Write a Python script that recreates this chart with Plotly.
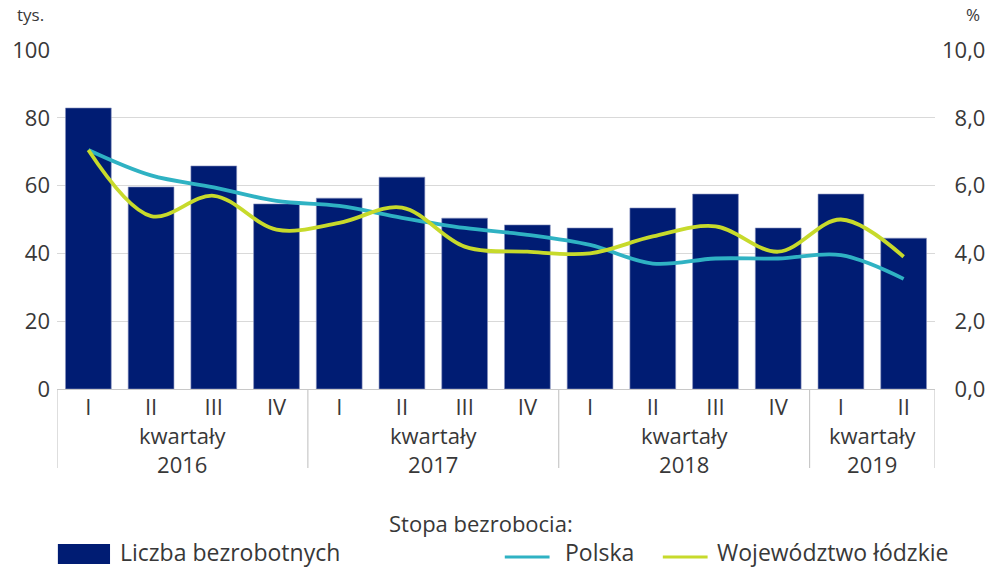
import plotly.graph_objects as go

quarters = ["I", "II", "III", "IV", "I", "II", "III", "IV", "I", "II", "III", "IV", "I", "II"]
years = ["2016"] * 4 + ["2017"] * 4 + ["2018"] * 4 + ["2019"] * 2
unemployed = [82.9, 59.6, 65.8, 54.6, 56.3, 62.5, 50.4, 48.4, 47.5, 53.4, 57.5, 47.5, 57.5, 44.5]
rate_poland = [7.05, 6.3, 5.95, 5.55, 5.4, 5.05, 4.75, 4.55, 4.25, 3.7, 3.85, 3.85, 3.95, 3.25]
rate_lodzkie = [7.05, 5.1, 5.7, 4.7, 4.9, 5.35, 4.2, 4.05, 4.0, 4.5, 4.8, 4.05, 5.0, 3.9]
rate_ticks = [0, 2, 4, 6, 8, 10]
group_label = "kwartały"

NAVY = "#001c73"
TEAL = "#2fb2c3"
LIME = "#c7da2b"
TXT = "#383838"
FONT = "Open Sans"
FS = 22

x = list(range(len(quarters)))

fig = go.Figure()
fig.add_trace(go.Bar(x=x, y=unemployed, marker=dict(color=NAVY, line=dict(color="#8a93c0", width=0.6)),
                     name="Liczba bezrobotnych", showlegend=False))
fig.add_trace(go.Scatter(x=x, y=rate_poland, yaxis="y2", mode="lines",
                         line=dict(color=TEAL, width=3.8, shape="spline", smoothing=1.0),
                         name="Polska", showlegend=False))
fig.add_trace(go.Scatter(x=x, y=rate_lodzkie, yaxis="y2", mode="lines",
                         line=dict(color=LIME, width=3.8, shape="spline", smoothing=1.0),
                         name="Województwo łódzkie", showlegend=False))

# group boundaries and labels
groups = []
start = 0
for i in range(1, len(years) + 1):
    if i == len(years) or years[i] != years[start]:
        groups.append((start, i - 1, years[start]))
        start = i

tf = dict(size=FS, color=TXT, family=FONT)
lf = dict(size=23, color=TXT, family=FONT)
shapes = []
annotations = []
bounds = sorted(set([g[0] - 0.5 for g in groups] + [g[1] + 0.5 for g in groups]))
for b in bounds:
    shapes.append(dict(type="line", xref="x", yref="paper", x0=b, x1=b, y0=0, y1=-0.233,
                       line=dict(color="#c8c8c8", width=1.2)))
for s, e, yr in groups:
    annotations.append(dict(xref="x", yref="paper", x=(s + e) / 2, y=-0.178, yanchor="middle",
                            text=f"{group_label}<br>{yr}", showarrow=False, font=tf, borderpad=0))

# axis unit labels
annotations.append(dict(xref="paper", yref="paper", x=-0.013, y=1.065, xanchor="right", yanchor="bottom",
                        text="tys.", showarrow=False, font=dict(size=17, color=TXT, family=FONT)))
annotations.append(dict(xref="paper", yref="paper", x=1.0535, y=1.065, xanchor="right", yanchor="bottom",
                        text="%", showarrow=False, font=dict(size=17, color=TXT, family=FONT)))

# custom legend
annotations.append(dict(xref="paper", yref="paper", x=0.483, y=-0.395, xanchor="center", yanchor="middle",
                        text="Stopa bezrobocia:", showarrow=False, font=tf))
shapes.append(dict(type="rect", xref="paper", yref="paper", x0=0.001, x1=0.0604, y0=-0.516, y1=-0.457,
                   fillcolor=NAVY, line=dict(width=0)))
annotations.append(dict(xref="paper", yref="paper", x=0.0695, y=-0.482, xanchor="left", yanchor="middle",
                        text="Liczba bezrobotnych", showarrow=False, font=lf))
shapes.append(dict(type="line", xref="paper", yref="paper", x0=0.510, x1=0.561, y0=-0.4956, y1=-0.4956,
                   line=dict(color=TEAL, width=3)))
annotations.append(dict(xref="paper", yref="paper", x=0.576, y=-0.482, xanchor="left", yanchor="middle",
                        text="Polska", showarrow=False, font=lf))
shapes.append(dict(type="line", xref="paper", yref="paper", x0=0.690, x1=0.741, y0=-0.4956, y1=-0.4956,
                   line=dict(color=LIME, width=3)))
annotations.append(dict(xref="paper", yref="paper", x=0.749, y=-0.482, xanchor="left", yanchor="middle",
                        text="Województwo łódzkie", showarrow=False, font=lf))

# right-aligned percent labels (pad with figure spaces)
rate_labels = [f"{v:.1f}".replace(".", ",") for v in rate_ticks]
w = max(len(s) for s in rate_labels)
rate_labels = ["\u2007" * (w - len(s)) + s for s in rate_labels]

fig.update_layout(
    width=987, height=568,
    margin=dict(l=57, r=52, t=50, b=179, autoexpand=False),
    paper_bgcolor="white", plot_bgcolor="white",
    bargap=0.27,
    separators=", ",
    font=dict(family=FONT, color=TXT, size=FS),
    xaxis=dict(tickmode="array", tickvals=x, ticktext=quarters, range=[-0.5, len(x) - 0.5],
               showgrid=False, zeroline=False, showline=True, linecolor="#c8c8c8", linewidth=1.2,
               ticks="", tickfont=tf, ticklabelstandoff=-2),
    yaxis=dict(range=[0, 100], dtick=20, showgrid=True, gridcolor="#d9d9d9", gridwidth=1.3,
               zeroline=False, ticks="", tickfont=tf, ticklabelstandoff=6),
    yaxis2=dict(range=[0, 10], tickmode="array", tickvals=rate_ticks, ticktext=rate_labels,
                overlaying="y", side="right", showgrid=False, zeroline=False,
                ticks="", tickfont=tf, ticklabelstandoff=6),
    shapes=shapes, annotations=annotations, showlegend=False,
)

fig.write_html("out.html", config={"displayModeBar": False},
               post_script="document.body.style.margin='0';document.body.style.overflow='hidden';")
